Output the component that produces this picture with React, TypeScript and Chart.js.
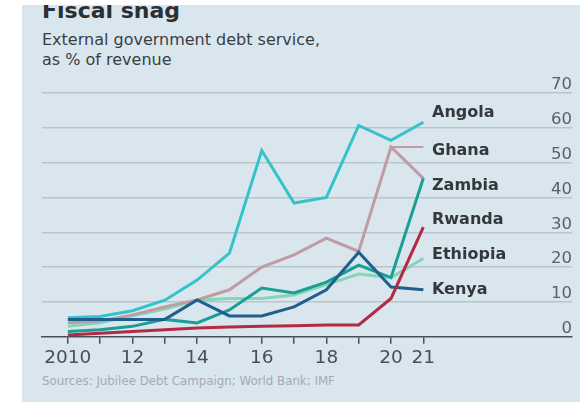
import React, { useEffect, useRef } from "react";
import { Chart, registerables } from "chart.js";

Chart.register(...registerables);

const years = [2010, 2011, 2012, 2013, 2014, 2015, 2016, 2017, 2018, 2019, 2020, 2021];
const yearLabels: Record<number, string> = { 2010: "2010", 2012: "12", 2014: "14", 2016: "16", 2018: "18", 2020: "20", 2021: "21" };
const yTicks = [0, 10, 20, 30, 40, 50, 60, 70];

const angola = [5.5, 5.8, 7.5, 10.5, 16.3, 24, 53.5, 38.4, 40, 60.7, 56.4, 61.6];
const ghana = [4, 4.5, 6.3, 8.6, 10.6, 13.5, 20, 23.5, 28.3, 24.5, 54.5, 45.5];
const zambia = [1.5, 2, 3, 5, 4, 7.7, 14, 12.6, 15.7, 20.6, 17, 45.5];
const rwanda = [0.5, 1, 1.5, 2, 2.5, 2.8, 3, 3.2, 3.4, 3.4, 11, 31.5];
const ethiopia = [3, 4, 6, 8, 10.5, 11, 11, 12, 15, 18, 17, 22.5];
const kenya = [5, 5, 5, 5, 10.6, 6, 6, 8.6, 13.5, 24.3, 14.3, 13.5];
const ghanaLeaderYears = [2020, 2021];
const ghanaLeader = [54.5, 54.5];

const countryLabels = [
  { name: "Angola", top: 112 },
  { name: "Ghana", top: 150 },
  { name: "Zambia", top: 185 },
  { name: "Rwanda", top: 219 },
  { name: "Ethiopia", top: 254 },
  { name: "Kenya", top: 289 },
];

const pts = (xs: number[], ys: number[]) => xs.map((x, i) => ({ x, y: ys[i] }));

export default function App() {
  const ref = useRef<HTMLCanvasElement>(null);
  useEffect(() => {
    if (!ref.current) return;
    const ds = (label: string, data: number[], color: string, width = 3) => ({
      label,
      data: pts(years, data),
      borderColor: color,
      backgroundColor: color,
      borderWidth: width,
      pointRadius: 0,
      tension: 0,
      fill: false,
    });
    const chart = new Chart(ref.current, {
      type: "line",
      data: {
        datasets: [
          ds("Rwanda", rwanda, "#b42a45"),
          ds("Kenya", kenya, "#1f5f8d"),
          ds("Zambia", zambia, "#1a9f95"),
          ds("Angola", angola, "#34c3c9"),
          {
            label: "Ghana leader",
            data: pts(ghanaLeaderYears, ghanaLeader),
            borderColor: "#c09ba1",
            borderWidth: 2,
            pointRadius: 0,
            fill: false,
          },
          ds("Ghana", ghana, "#c09ba1"),
          ds("Ethiopia", ethiopia, "#84d5b9"),
        ] as any,
      },
      options: {
        responsive: false,
        animation: false,
        devicePixelRatio: 1,
        layout: { padding: { left: 42, right: 8, top: 93, bottom: 30 } },
        plugins: { legend: { display: false }, tooltip: { enabled: false } },
        scales: {
          x: {
            type: "linear",
            min: 2009.2,
            max: 2025.6,
            afterBuildTicks: (scale: any) => {
              scale.ticks = years.map((v) => ({ value: v }));
            },
            grid: { drawOnChartArea: false, drawTicks: true, tickLength: 7, color: "#4a4f55", lineWidth: 1.5 },
            border: { display: true, color: "#4a4f55", width: 1.5 },
            ticks: {
              autoSkip: false,
              maxRotation: 0,
              padding: 3,
              color: "#4a4f55",
              font: { family: "DejaVu Sans", size: 18.5 },
              callback: (v: any) => yearLabels[v as number] ?? "",
            },
          },
          y: {
            position: "right",
            min: 0,
            max: 70,
            afterBuildTicks: (scale: any) => {
              scale.ticks = yTicks.map((v) => ({ value: v }));
            },
            border: { display: false },
            grid: {
              drawTicks: false,
              color: (c: any) => (c.tick && c.tick.value === 0 ? "rgba(0,0,0,0)" : "#b7c5ce"),
              lineWidth: 1.5,
            },
            ticks: {
              mirror: true,
              padding: 0,
              labelOffset: -8,
              color: "#5a5f66",
              font: { family: "DejaVu Sans", size: 16.5 },
            },
          },
        },
      },
    });
    return () => chart.destroy();
  }, []);

  return (
    <div style={{ position: "fixed", left: 0, top: 0, width: 580, height: 402, background: "#ffffff", overflow: "hidden" }}>
      <div style={{ position: "absolute", left: 22, top: 5, right: 0, bottom: 0, background: "#d9e6ee", overflow: "hidden" }}>
        <div style={{ position: "absolute", left: 20, top: -7, fontFamily: "DejaVu Sans", fontWeight: 700, fontSize: 22, color: "#2b2f33", whiteSpace: "nowrap" }}>
          Fiscal snag
        </div>
        <div style={{ position: "absolute", left: 20, top: 25, fontFamily: "DejaVu Sans", fontSize: 16, lineHeight: "20px", color: "#3a3e43", whiteSpace: "nowrap" }}>
          External government debt service,
          <br />
          as % of revenue
        </div>
        <div style={{ position: "absolute", left: 20, top: 369, fontFamily: "DejaVu Sans", fontSize: 11.8, color: "#a3abb2", whiteSpace: "nowrap" }}>
          Sources: Jubilee Debt Campaign; World Bank; IMF
        </div>
      </div>
      <canvas ref={ref} width={580} height={402} style={{ position: "absolute", left: 0, top: 0, width: 580, height: 402 }} />
      {countryLabels.map((c) => (
        <div
          key={c.name}
          style={{
            position: "absolute",
            left: 432,
            top: c.top - 10,
            height: 20,
            lineHeight: "20px",
            fontFamily: "DejaVu Sans",
            fontWeight: 700,
            fontSize: 16,
            color: "#34383d",
            whiteSpace: "nowrap",
          }}
        >
          {c.name}
        </div>
      ))}
    </div>
  );
}
